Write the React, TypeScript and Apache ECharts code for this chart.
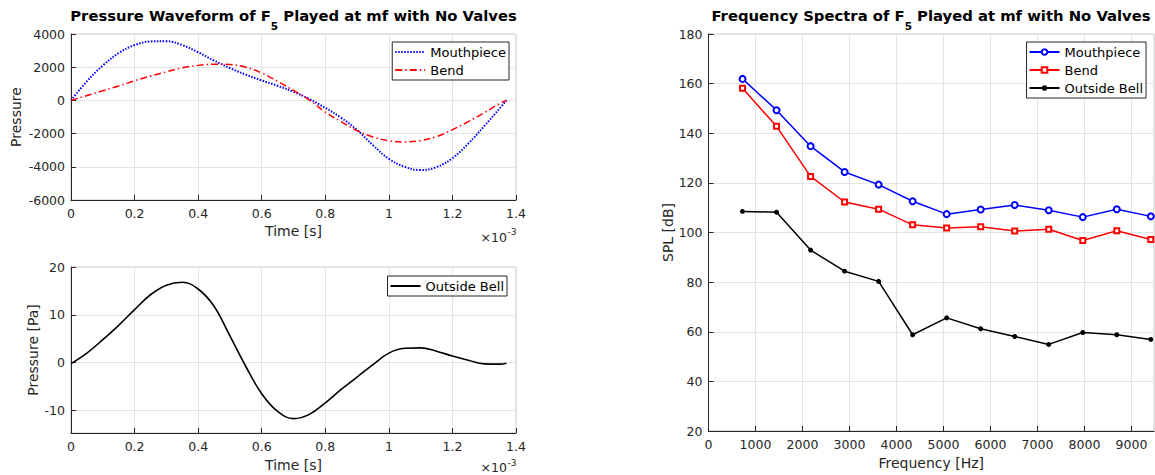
import React, { useEffect, useRef } from 'react';
import * as echarts from 'echarts';

// ---- Waveform data (time in ms, shown with ×10^-3 s) ----
const timeMs = [0, 0.05, 0.1, 0.15, 0.2, 0.25, 0.3, 0.35, 0.4, 0.45, 0.5, 0.55, 0.6, 0.65, 0.7, 0.75, 0.8, 0.85, 0.9, 0.95, 1.0, 1.05, 1.1, 1.15, 1.2, 1.25, 1.3, 1.35, 1.37];
const mouthpieceWave = [0, 1150, 2100, 2850, 3330, 3550, 3570, 3330, 2900, 2400, 1950, 1550, 1200, 880, 520, 80, -450, -1050, -1780, -2700, -3520, -4000, -4200, -4020, -3480, -2600, -1550, -450, 0];
const bendWave = [0, 290, 580, 870, 1180, 1470, 1720, 1960, 2110, 2180, 2160, 2000, 1650, 1150, 600, 20, -700, -1280, -1820, -2200, -2430, -2500, -2420, -2180, -1760, -1280, -740, -180, 0];
const bellWave = [-0.2, 2.0, 4.8, 7.8, 11.1, 14.2, 16.2, 16.8, 15.4, 11.8, 5.6, -0.8, -6.5, -10.2, -11.7, -10.8, -8.4, -5.6, -3.0, -0.4, 2.0, 3.0, 3.1, 2.4, 1.4, 0.5, -0.25, -0.3, -0.1];

// ---- Spectrum data ----
const freqHz = [724, 1448, 2172, 2896, 3620, 4344, 5068, 5792, 6516, 7240, 7964, 8688, 9412];
const mouthSpl = [161.9, 149.3, 134.8, 124.4, 119.3, 112.6, 107.4, 109.3, 111.1, 109.0, 106.2, 109.4, 106.5];
const bendSpl = [158.1, 142.8, 122.6, 112.3, 109.4, 103.1, 101.8, 102.3, 100.6, 101.3, 96.8, 100.7, 97.2];
const bellSpl = [108.5, 108.2, 92.9, 84.4, 80.3, 58.8, 65.6, 61.2, 58.1, 54.9, 59.7, 58.8, 56.9];

// ---- Tick values ----
const bellTicks = [-10, 0, 10, 20];

const FONT = 'DejaVu Sans';
const AX = '#262626';
const GRIDC = '#e4e4e4';

const pair = (xs: number[], ys: number[]) => xs.map((x, i) => [x, ys[i]]);
const plain = (v: number) => String(Math.round(v * 1000) / 1000);

const baseAxis = (extra: any) => ({
  axisLine: { show: true, onZero: false, lineStyle: { color: AX, width: 1 } },
  axisTick: { show: true, inside: true, length: 5, lineStyle: { color: AX } },
  splitLine: { show: true, lineStyle: { color: GRIDC, width: 1 } },
  nameTextStyle: { color: AX, fontFamily: FONT, fontSize: 14 },
  nameLocation: 'middle',
  ...extra,
  axisLabel: { color: AX, fontFamily: FONT, fontSize: 12.5, margin: 7, formatter: plain, ...(extra.axisLabel || {}) },
});

const titleRich = {
  b: { fontFamily: FONT, fontSize: 14.8, fontWeight: 'bold', lineHeight: 16, verticalAlign: 'top', fill: '#000' },
  s: { fontFamily: FONT, fontSize: 10.5, fontWeight: 'bold', lineHeight: 23, verticalAlign: 'bottom', fill: '#000' },
};

const stripTag = (n: string) => n.replace(' (spectrum)', '');
const noSym = { color: 'rgba(0,0,0,0)', borderWidth: 0, opacity: 0 };

const legendBase = {
  orient: 'vertical',
  itemWidth: 30,
  itemHeight: 7,
  itemGap: 4,
  padding: [3, 3, 3, 2],
  borderColor: AX,
  borderWidth: 1,
  backgroundColor: '#fff',
  textStyle: { color: '#000', fontFamily: FONT, fontSize: 13, lineHeight: 14 },
  formatter: stripTag,
  selectedMode: false,
};

const expText = (x: number, yBase: number, yExp: number) => [
  { type: 'text', x, y: yBase, style: { text: '×10', fontFamily: FONT, fontSize: 12.5, fill: AX, align: 'right', verticalAlign: 'middle' } },
  { type: 'text', x: x + 0.5, y: yExp, style: { text: '-3', fontFamily: FONT, fontSize: 9, fill: AX, align: 'left', verticalAlign: 'middle' } },
];

const option: any = {
  animation: false,
  backgroundColor: '#fff',
  grid: [
    { left: 71, top: 34, width: 445, height: 166, show: true, borderColor: '#c4c4c4', borderWidth: 1 },
    { left: 71, top: 267, width: 445, height: 166, show: true, borderColor: '#c4c4c4', borderWidth: 1 },
    { left: 708.5, top: 34, width: 445.5, height: 399.5, show: true, borderColor: '#c4c4c4', borderWidth: 1 },
  ],
  xAxis: [
    baseAxis({ gridIndex: 0, type: 'value', min: 0, max: 1.4, interval: 0.2, name: 'Time [s]', nameGap: 24 }),
    baseAxis({ gridIndex: 1, type: 'value', min: 0, max: 1.4, interval: 0.2, name: 'Time [s]', nameGap: 25 }),
    baseAxis({ gridIndex: 2, type: 'value', min: 0, max: 9480, interval: 1000, name: 'Frequency [Hz]', nameGap: 25,
      axisLabel: { showMaxLabel: false } }),
  ],
  yAxis: [
    baseAxis({ gridIndex: 0, type: 'value', min: -6000, max: 4000, interval: 2000, name: 'Pressure', nameGap: 48,
      axisLabel: { margin: 6 } }),
    baseAxis({ gridIndex: 1, type: 'value', min: -14.7, max: 20, splitNumber: 4, name: 'Pressure [Pa]', nameGap: 31,
      axisLabel: { margin: 6, customValues: bellTicks },
      axisTick: { show: true, inside: true, length: 5, lineStyle: { color: AX }, customValues: bellTicks } }),
    baseAxis({ gridIndex: 2, type: 'value', min: 20, max: 180, interval: 20, name: 'SPL [dB]', nameGap: 34,
      axisLabel: { margin: 6 } }),
  ],
  legend: [
    { ...legendBase, right: 646, top: 42, data: [{ name: 'Mouthpiece', itemStyle: noSym }, { name: 'Bend', itemStyle: noSym }] },
    { ...legendBase, right: 648, top: 276, data: [{ name: 'Outside Bell', itemStyle: noSym }] },
    { ...legendBase, right: 9, top: 42, data: ['Mouthpiece (spectrum)', 'Bend (spectrum)', 'Outside Bell (spectrum)'] },
  ],
  series: [
    { name: 'Mouthpiece', type: 'line', xAxisIndex: 0, yAxisIndex: 0, data: pair(timeMs, mouthpieceWave), smooth: 0.4,
      symbol: 'none', lineStyle: { color: '#0000ff', width: 2, type: [1.5, 1.5] }, itemStyle: { color: '#0000ff' } },
    { name: 'Bend', type: 'line', xAxisIndex: 0, yAxisIndex: 0, data: pair(timeMs, bendWave), smooth: 0.4,
      symbol: 'none', lineStyle: { color: '#ff0000', width: 1.5, type: [7, 3, 1.5, 3] }, itemStyle: { color: '#ff0000' } },
    { name: 'Outside Bell', type: 'line', xAxisIndex: 1, yAxisIndex: 1, data: pair(timeMs, bellWave), smooth: 0.4,
      symbol: 'none', lineStyle: { color: '#000', width: 1.6 }, itemStyle: { color: '#000' } },
    { name: 'Mouthpiece (spectrum)', type: 'line', xAxisIndex: 2, yAxisIndex: 2, data: pair(freqHz, mouthSpl),
      symbol: 'emptyCircle', symbolSize: 6, lineStyle: { color: '#0000ff', width: 1.5 },
      itemStyle: { color: '#0000ff', borderColor: '#0000ff', borderWidth: 1.2 } },
    { name: 'Bend (spectrum)', type: 'line', xAxisIndex: 2, yAxisIndex: 2, data: pair(freqHz, bendSpl),
      symbol: 'emptyRect', symbolSize: 5, lineStyle: { color: '#ff0000', width: 1.5 },
      itemStyle: { color: '#ff0000', borderColor: '#ff0000', borderWidth: 1 } },
    { name: 'Outside Bell (spectrum)', type: 'line', xAxisIndex: 2, yAxisIndex: 2, data: pair(freqHz, bellSpl),
      symbol: 'circle', symbolSize: 5, lineStyle: { color: '#000', width: 1.5 }, itemStyle: { color: '#000' } },
  ],
  graphic: [
    { type: 'text', x: 293.5, y: 8, style: { text: '{b|Pressure Waveform of F}{s|5}{b| Played at mf with No Valves}', rich: titleRich, align: 'center', verticalAlign: 'top' } },
    { type: 'text', x: 931, y: 8, style: { text: '{b|Frequency Spectra of F}{s|5}{b| Played at mf with No Valves}', rich: titleRich, align: 'center', verticalAlign: 'top' } },
    ...expText(507, 237.5, 232),
    ...expText(507, 467.5, 462.5),
  ],
};

export default function App() {
  const ref = useRef<HTMLDivElement>(null);
  useEffect(() => {
    const chart = echarts.init(ref.current!, null, { renderer: 'svg' });
    chart.setOption(option);
    return () => chart.dispose();
  }, []);
  return <div ref={ref} style={{ width: 1155, height: 475, position: 'absolute', left: 0, top: 0 }} />;
}
